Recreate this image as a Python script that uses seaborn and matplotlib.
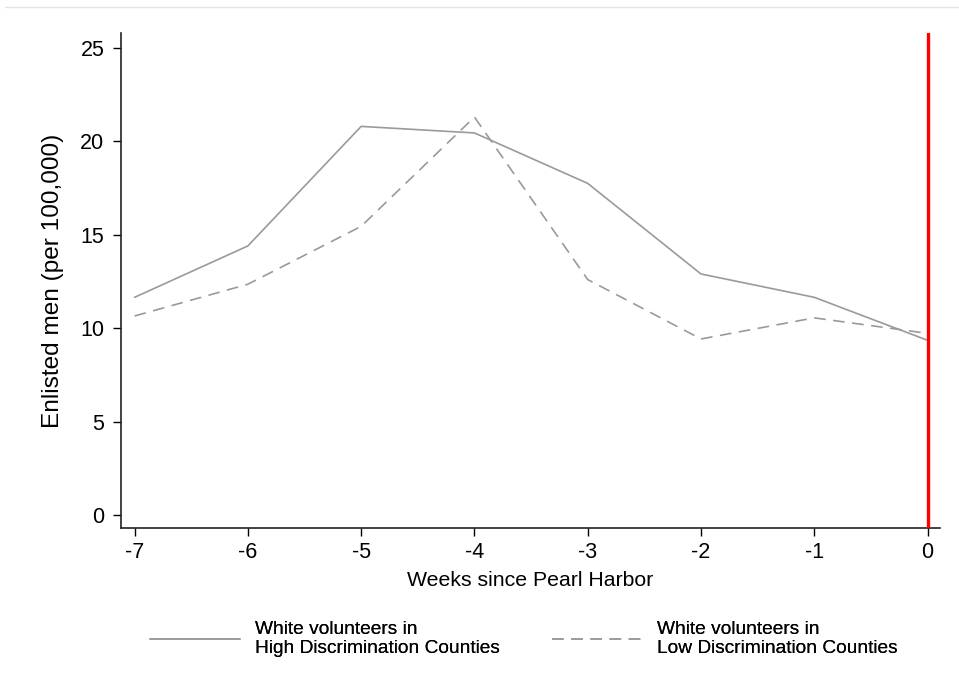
import pandas as pd
import matplotlib.pyplot as plt
import seaborn as sns
from matplotlib.lines import Line2D

# values
weeks = [-7, -6, -5, -4, -3, -2, -1, 0]
high_disc = [11.65, 14.4, 20.8, 20.45, 17.75, 12.9, 11.65, 9.35]
low_disc = [10.65, 12.35, 15.45, 21.3, 12.6, 9.42, 10.55, 9.72]
series_names = ["White volunteers in\nHigh Discrimination Counties",
                "White volunteers in\nLow Discrimination Counties"]
y_ticks = [0, 5, 10, 15, 20, 25]

df = pd.DataFrame({
    "week": weeks * 2,
    "rate": high_disc + low_disc,
    "group": [series_names[0]] * len(weeks) + [series_names[1]] * len(weeks),
})

sns.set_style("white")
plt.rcParams['font.family'] = ['Liberation Sans', 'DejaVu Sans']
plt.rcParams['text.color'] = 'black'
plt.rcParams['axes.labelcolor'] = 'black'
plt.rcParams['xtick.color'] = 'black'
plt.rcParams['ytick.color'] = 'black'

fig = plt.figure(figsize=(9.59, 6.94), dpi=100)
ax = fig.add_axes([121 / 959, 1 - 528 / 694, (940 - 121) / 959, (528 - 33) / 694])

grey = '#9a9a9a'
sns.lineplot(data=df, x="week", y="rate", style="group", ax=ax,
             color=grey, linewidth=1.2, legend=False,
             dashes={series_names[0]: "", series_names[1]: (7, 4.5)})

ax.axvline(0, color='#ff0000', linewidth=2.4, zorder=5)

ax.set_xlim(-7.12, 0.11)
ax.set_ylim(-0.7, 25.8)
ax.set_xticks(weeks)
ax.set_xticklabels([str(w) for w in weeks])
ax.set_yticks(y_ticks)
ax.tick_params(axis='both', labelsize=15.5, width=1, direction='out',
               bottom=True, left=True)
ax.tick_params(axis='x', length=6, pad=4)
ax.tick_params(axis='y', length=5.5, pad=6.5)
ax.set_xlabel("Weeks since Pearl Harbor", fontsize=15.3, labelpad=6)
ax.set_ylabel("Enlisted men (per 100,000)", fontsize=17.6, labelpad=12)

for side in ['top', 'right']:
    ax.spines[side].set_visible(False)
for side in ['left', 'bottom']:
    ax.spines[side].set_color('#222222')
    ax.spines[side].set_linewidth(1.2)

# faint rule across the top of the image
fig.add_artist(Line2D([5 / 959, 1], [1 - 7 / 694, 1 - 7 / 694], color='#e4e4e4', linewidth=1))

handles = [Line2D([], [], color=grey, linewidth=1.2),
           Line2D([], [], color=grey, linewidth=1.2, dashes=(7, 4.5))]
for h, name, x0 in zip(handles, series_names, [150, 552]):
    leg = fig.legend([h], [name], loc='center left',
                     bbox_to_anchor=(x0 / 959, 1 - 639 / 694),
                     frameon=False, fontsize=13.8, handlelength=4.7,
                     handletextpad=0.8, borderpad=0, borderaxespad=0)
    fig.add_artist(leg)

fig.savefig("out.png", dpi=100)
